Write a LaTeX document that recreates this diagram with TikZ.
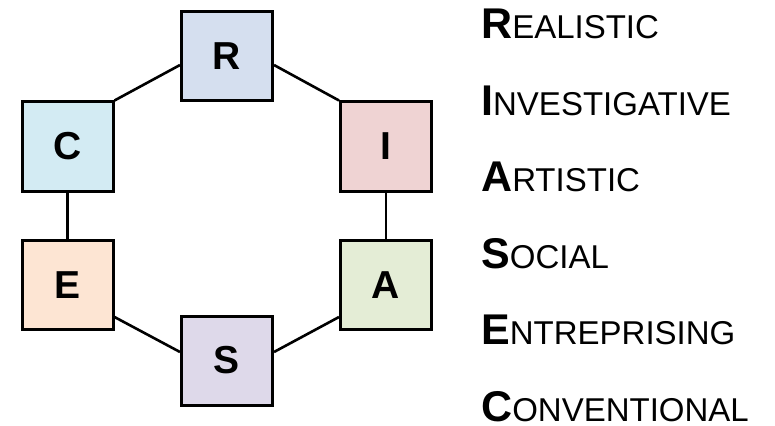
\documentclass[tikz,border=0pt]{standalone}
\usepackage{fontspec}
\setmainfont{Liberation Sans}
\usetikzlibrary{calc}
\definecolor{cR}{HTML}{D5DFEF}
\definecolor{cC}{HTML}{D3EBF3}
\definecolor{cI}{HTML}{EFD3D3}
\definecolor{cE}{HTML}{FDE5D3}
\definecolor{cA}{HTML}{E4EDD6}
\definecolor{cS}{HTML}{DED9EA}
\newcommand{\typeline}[2]{{\fontsize{43}{43}\selectfont\bfseries #1}{\fontsize{33}{33}\selectfont #2}}
\begin{document}
\begin{tikzpicture}[x=1pt,y=-1pt,
  box/.style={draw=black, line width=3pt, minimum width=91pt, minimum height=89pt, inner sep=0pt,
    font=\fontsize{39}{39}\selectfont\bfseries},
  link/.style={line width=2.6pt, black},
  lbl/.style={anchor=base west, inner sep=0pt}]
\useasboundingbox (0,0) rectangle (775,425);
\node[box, fill=cR] (R) at (227,56.5) {R};
\node[box, fill=cC] (C) at (67.5,146.5) {C};
\node[box, fill=cI] (I) at (386,146.5) {I};
\node[box, fill=cE] (E) at (67.5,285) {E};
\node[box, fill=cA] (A) at (386,285) {A};
\node[box, fill=cS] (S) at (227,360.5) {S};
\draw[link] ($(R.west)+(0,8.5)$) -- (C.north east);
\draw[link] ($(R.east)+(0,8.5)$) -- (I.north west);
\draw[link] (C.south) -- (E.north);
\draw[link] (I.south) -- (A.north);
\draw[link] ($(E.east)+(0,32)$) -- ($(S.west)+(0,-8.5)$);
\draw[link] ($(S.east)+(0,-8.5)$) -- ($(A.west)+(0,32)$);
\node[lbl] (tR) at (481,38.5) {\typeline{R}{EALISTIC}};
\node[lbl] (tI) at (481,115) {\typeline{I}{NVESTIGATIVE}};
\node[lbl] (tA) at (481,191.5) {\typeline{A}{RTISTIC}};
\node[lbl] (tS) at (481,268) {\typeline{S}{OCIAL}};
\node[lbl] (tE) at (481,344.5) {\typeline{E}{NTREPRISING}};
\node[lbl] (tC) at (481,421) {\typeline{C}{ONVENTIONAL}};
\end{tikzpicture}
\end{document}
